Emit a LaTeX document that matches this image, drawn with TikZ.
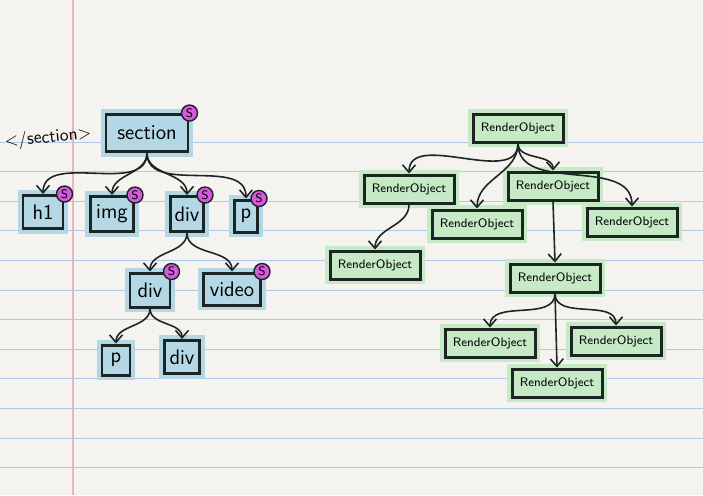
\documentclass[tikz,border=0pt]{standalone}
\usepackage{tikz}
\usetikzlibrary{arrows.meta}
\definecolor{paper}{HTML}{F4F3EF}
\definecolor{ruleblue}{HTML}{B0C8EA}
\definecolor{marginred}{HTML}{EDB3BC}
\definecolor{hlblue}{HTML}{B3D7E5}
\definecolor{hlgreen}{HTML}{C6E9C6}
\definecolor{badgepink}{HTML}{D659E0}
\definecolor{ink}{HTML}{1C2424}

\begin{document}
\begin{tikzpicture}[x=0.2mm, y=-0.2mm,
    dombox/.style={draw=ink, line width=1.7pt, fill=hlblue, preaction={draw=hlblue, line width=6pt}, inner sep=0pt, font=\sffamily\large},
    renderbox/.style={draw=ink, line width=1.7pt, fill=hlgreen, preaction={draw=hlgreen, line width=6pt}, minimum width=18mm, minimum height=5.6mm, inner sep=0pt, font=\sffamily\scriptsize},
    sbadge/.style={circle, draw=ink, line width=0.8pt, fill=badgepink, inner sep=0pt, minimum size=3.2mm, font=\sffamily\scriptsize},
    link/.style={draw=ink, line width=0.9pt, -{Straight Barb[length=1.5mm,width=2.6mm]}}]
 % paper 
                \fill[paper] (0,0) rectangle (703,495);
                \useasboundingbox (0,0) rectangle (703,495);
                \foreach \k in {0,...,11}
                    \draw[ruleblue, line width=0.5pt] (0,{142+29.6*\k}) -- (703,{142+29.6*\k});
                \draw[marginred, line width=0.6pt] (73,0) -- (73,495);
                % dom tree 
                \node at (48,138) (closetag) [rotate=6, font=\sffamily] {\textless/section\textgreater};
                \node at (147,133) (section) [dombox, minimum width=16.4mm, minimum height=7.4mm] {section};
                \node at (43,212) (hone) [dombox, minimum width=8mm, minimum height=6.6mm] {h1};
                \node at (112,214) (img) [dombox, minimum width=8.6mm, minimum height=7mm] {img};
                \node at (187,214) (div) [dombox, minimum width=6.6mm, minimum height=7mm] {div};
                \node at (246,216) (para) [dombox, minimum width=4.6mm, minimum height=6.4mm] {p};
                \node at (150,290) (innerdiv) [dombox, minimum width=8mm, minimum height=6.8mm] {div};
                \node at (232,289) (video) [dombox, minimum width=11.4mm, minimum height=6.4mm] {video};
                \node at (116,360) (innerp) [dombox, minimum width=5.6mm, minimum height=6mm] {p};
                \node at (182,357) (innermostdiv) [dombox, minimum width=7mm, minimum height=6.6mm] {div};
                % style badges 
                \node at (section.north east) (sectionS) [sbadge] {S};
                \node at (hone.north east) (honeS) [sbadge] {S};
                \node at (img.north east) (imgS) [sbadge] {S};
                \node at (div.north east) (divS) [sbadge] {S};
                \node at (para.north east) (paraS) [sbadge] {S};
                \node at (innerdiv.north east) (innerdivS) [sbadge] {S};
                \node at (video.north east) (videoS) [sbadge] {S};
                % dom links 
                \draw [link] (section.south) to[out=-90, in=90] (hone.north);
                \draw [link] (section.south) to[out=-90, in=90] (img.north);
                \draw [link] (section.south) to[out=-90, in=90] (div.north);
                \draw [link] (section.south) to[out=-90, in=90] (para.north);
                \draw [link] (div.south) to[out=-90, in=90] (innerdiv.north);
                \draw [link] (div.south) to[out=-90, in=90] (video.north);
                \draw [link] (innerdiv.south) to[out=-90, in=90] (innerp.north);
                \draw [link] (innerdiv.south) to[out=-90, in=90] (innermostdiv.north);
                % render tree 
                \node at (518,128) (root) [renderbox] {RenderObject};
                \node at (409,189) (roLeft) [renderbox] {RenderObject};
                \node at (477,224) (roMid) [renderbox] {RenderObject};
                \node at (553,186) (roCenter) [renderbox] {RenderObject};
                \node at (632,222) (roRight) [renderbox] {RenderObject};
                \node at (375,265) (roLeftKid) [renderbox] {RenderObject};
                \node at (555,278) (roChain) [renderbox] {RenderObject};
                \node at (490,343) (roChainL) [renderbox] {RenderObject};
                \node at (616,341) (roChainR) [renderbox] {RenderObject};
                \node at (557,383) (roChainB) [renderbox] {RenderObject};
                % render links 
                \draw [link] (root.south) to[out=-90, in=90] (roLeft.north);
                \draw [link] (root.south) to[out=-90, in=90] (roMid.north);
                \draw [link] (root.south) to[out=-90, in=90] (roCenter.north);
                \draw [link] (root.south) to[out=-90, in=90] (roRight.north);
                \draw [link] (roLeft.south) to[out=-90, in=90] (roLeftKid.north);
                \draw [link] (roCenter.south) -- (roChain.north);
                \draw [link] (roChain.south) to[out=-90, in=90] (roChainL.north);
                \draw [link] (roChain.south) to[out=-90, in=90] (roChainR.north);
                \draw [link] (roChain.south) -- (roChainB.north);
\end{tikzpicture}
\end{document}
